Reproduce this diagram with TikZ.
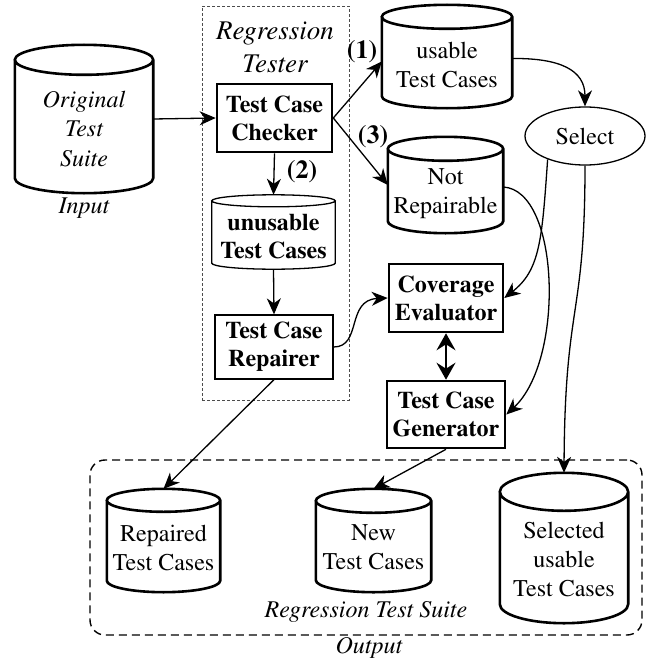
\documentclass[tikz,border=0pt]{standalone}
\usepackage[T1]{fontenc}
\usepackage{times}
\usetikzlibrary{arrows.meta,calc,shapes.geometric}

\tikzset{
  base/.style={font=\rmfamily\fontsize{24}{29}\selectfont, align=center},
  holder/.style={draw=none, rectangle, inner sep=0pt},
  heavybox/.style={draw, rectangle, line width=2.6pt, inner sep=0pt,
    font=\rmfamily\bfseries\fontsize{24}{28}\selectfont, align=center},
  lightbox/.style={draw, rectangle, line width=1.3pt, inner sep=0pt,
    font=\rmfamily\bfseries\fontsize{24}{28}\selectfont, align=center},
  tag/.style={font=\rmfamily\bfseries\fontsize{26}{30}\selectfont, inner sep=0pt},
  conn/.style={line width=1.3pt, -{Stealth[length=16pt,width=14pt,inset=5pt]}},
  bigconn/.style={line width=2.2pt,
    {Stealth[length=17pt,width=19pt,inset=6pt]}-{Stealth[length=17pt,width=19pt,inset=6pt]}},
}

% cylinder outline around an (invisible) rectangular node
\newcommand\cylout[3]{%
  \draw[line width=#3] let \p1=(#1.north west), \p2=(#1.south east),
      \n1={(\x2-\x1)/2} in
    (\x1+\n1,\y1-#2pt) ellipse [x radius=\n1, y radius=#2pt]
    (\x1,\y1-#2pt) -- (\x1,\y2+#2pt)
      arc [start angle=180, end angle=360, x radius=\n1, y radius=#2pt]
      -- (\x2,\y1-#2pt);
}

\begin{document}
\begin{tikzpicture}[x=1pt, y=-1pt]
\useasboundingbox (0,0) rectangle (656,661);

% group frames
\node[draw=black!70, line width=0.8pt, dash pattern=on 3pt off 2pt,
      minimum width=147pt, minimum height=394pt, inner sep=0pt] (tester) at (275.5,203) {};
\node[base, font=\rmfamily\itshape\fontsize{27}{33}\selectfont] (testerlbl) at (275,47) {Regression\\Tester};
\node[draw, line width=1.4pt, dash pattern=on 8pt off 5pt, rounded corners=15pt,
      minimum width=552pt, minimum height=175pt, inner sep=0pt] (outbox) at (366,547.5) {};
\node[base, font=\rmfamily\itshape\fontsize{24}{29}\selectfont] (suitelbl) at (366,612) {Regression Test Suite};
\node[base, font=\rmfamily\itshape\fontsize{24}{29}\selectfont] (outlbl) at (369,648) {Output};

% input store
\node[holder, minimum width=138pt, minimum height=148pt,
      label={[base, font=\rmfamily\itshape\fontsize{24}{29.5}\selectfont, yshift=-10pt]center:Original\\Test\\Suite}] (orig) at (84,119) {};
\cylout{orig}{15}{2.6pt}
\node[base, font=\rmfamily\itshape\fontsize{24}{29}\selectfont] (inlbl) at (84,208) {Input};

% regression tester internals
\node[heavybox, minimum width=115pt, minimum height=68pt] (checker) at (274.5,118) {Test Case\\Checker};
\node[holder, minimum width=123pt, minimum height=74pt,
      label={[base, font=\rmfamily\bfseries\fontsize{24}{28}\selectfont, yshift=-4pt]center:unusable\\Test Cases}] (unusable) at (273.5,232) {};
\cylout{unusable}{6}{1.3pt}
\node[lightbox, minimum width=118pt, minimum height=64pt] (repairer) at (274,347) {Test Case\\Repairer};

% classified stores
\node[holder, minimum width=130pt, minimum height=103pt,
      label={[base, yshift=-8pt]center:usable\\Test Cases}] (usable) at (447,56.5) {};
\cylout{usable}{12}{2.6pt}
\node[holder, minimum width=115pt, minimum height=96pt,
      label={[base, yshift=-9pt]center:Not\\Repairable}] (notrep) at (445.5,185) {};
\cylout{notrep}{12}{2.6pt}

\node[draw, ellipse, line width=1.3pt, minimum width=120pt, minimum height=58pt,
      inner sep=0pt, base] (select) at (585,136) {Select};

\node[heavybox, minimum width=114pt, minimum height=68pt] (coverage) at (446,298) {Coverage\\Evaluator};
\node[heavybox, minimum width=118pt, minimum height=67pt] (generator) at (446,414.5) {Test Case\\Generator};

% output stores
\node[holder, minimum width=113pt, minimum height=103pt,
      label={[base, yshift=-7pt]center:Repaired\\Test Cases}] (repaired) at (163.5,540.5) {};
\cylout{repaired}{11.5}{2.6pt}
\node[holder, minimum width=115pt, minimum height=103pt,
      label={[base, yshift=-7pt]center:New\\Test Cases}] (newtc) at (373.5,540.5) {};
\cylout{newtc}{12}{2.6pt}
\node[holder, minimum width=128pt, minimum height=150pt,
      label={[base, yshift=-11pt]center:Selected\\usable\\Test Cases}] (selected) at (564,548) {};
\cylout{selected}{19}{2.6pt}

% edge tags
\node[tag] (t1) at (362,52) {(1)};
\node[tag] (t2) at (302,172) {(2)};
\node[tag] (t3) at (373,137) {(3)};

% connectors
\draw[conn] (orig.east) -- (checker.west);
\draw[conn] (checker.south) -- (unusable.north);
\draw[conn] (unusable.south) -- (repairer.north);
\draw[conn] (checker.east) -- ($(usable.west)+(0,5)$);
\draw[conn] (checker.east) -- (notrep.west);
\draw[conn] ($(usable.east)+(0,2)$) .. controls (560,58) and (585,70) .. (select.north);
\draw[conn] (select.212) .. controls (542,240) and (540,270) .. (coverage.east);
\draw[conn] (select.south) .. controls (585,320) and (565,300) .. (selected.north);
\draw[conn] ($(notrep.east)+(0,2)$) .. controls (560,190) and (565,360) .. (generator.east);
\draw[conn] (repairer.east) .. controls (362,347) and (346,300) .. (coverage.west);
\draw[bigconn] (coverage.south) -- (generator.north);
\draw[conn] (repairer.south) -- (repaired.north);
\draw[conn] (generator.south) -- (newtc.north);
\end{tikzpicture}
\end{document}
